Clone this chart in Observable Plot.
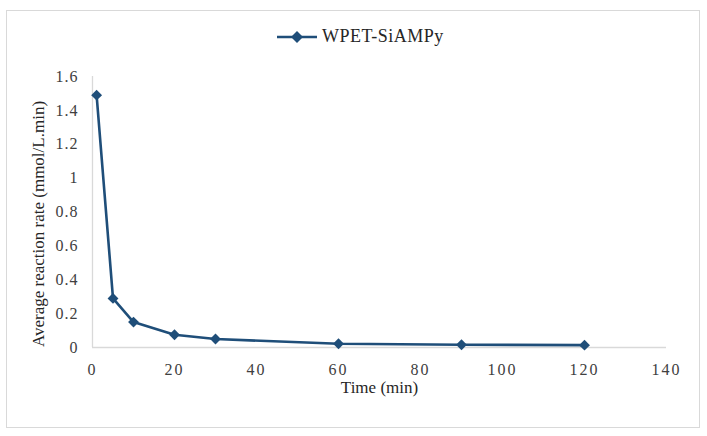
<!DOCTYPE html>
<html>
<head>
<meta charset="utf-8">
<script src="https://cdn.jsdelivr.net/npm/d3@7"></script>
<script src="https://cdn.jsdelivr.net/npm/@observablehq/plot@0.6"></script>
<style>
  html, body { margin: 0; padding: 0; background: #fff; }
  #wrap { position: relative; width: 707px; height: 436px; overflow: hidden; font-family: "Liberation Serif", "Times New Roman", serif; }
  #frame { position: absolute; left: 6px; top: 10px; width: 692px; height: 416px; border: 1.5px solid #d9d9d9; pointer-events: none; }
  #legend { position: relative; height: 60px; }
  #legend .item { position: absolute; left: 277px; top: 26px; display: flex; align-items: center; gap: 3px; font-size: 18px; letter-spacing: 0.5px; color: #262626; }
  #plot { position: relative; }
  svg.chart, .chart text { font-family: "Liberation Serif", "Times New Roman", serif !important; }
  .chart g[aria-label="x-axis tick label"] text { letter-spacing: 2px; }
  .chart g[aria-label="y-axis tick label"] text { letter-spacing: 1px; }
</style>
</head>
<body>
<div id="wrap">
  <div id="frame"></div>
  <div id="legend"></div>
  <div id="plot"></div>
</div>
<script>
// Sampling times (min) and the average reaction rate measured at each one
const seriesName = "WPET-SiAMPy";
const times = [1, 5, 10, 20, 30, 60, 90, 120];
const rates = [1.49, 0.29, 0.15, 0.075, 0.05, 0.022, 0.016, 0.014];
const xTicks = [0, 20, 40, 60, 80, 100, 120, 140];
const yTicks = [0, 0.2, 0.4, 0.6, 0.8, 1, 1.2, 1.4, 1.6];
const xTitle = "Time (min)";
const yTitle = "Average reaction rate (mmol/L.min)";

const data = times.map((t, i) => ({time: t, rate: rates[i]}));
const blue = "#1f4e79";
const grid = "#d9d9d9";
const serif = "Liberation Serif";

// Legend: line segment with a diamond marker, then the series name
const legend = document.getElementById("legend");
legend.innerHTML = `<div class="item">
  <svg width="42" height="14" viewBox="0 0 42 14">
    <line x1="0" y1="7" x2="40" y2="7" stroke="${blue}" stroke-width="2.5"/>
    <path d="M20 1 L26 7 L20 13 L14 7 Z" fill="${blue}"/>
  </svg><span>${seriesName}</span></div>`;

const chart = Plot.plot({
  className: "chart",
  width: 707,
  height: 376,
  marginLeft: 92,
  marginRight: 41,
  marginTop: 16,
  marginBottom: 89,
  style: {fontSize: "15px", color: "#404040", background: "transparent", overflow: "visible"},
  x: {domain: [0, 140]},
  y: {domain: [0, 1.6]},
  marks: [
    Plot.ruleY([0], {stroke: grid, strokeWidth: 1.3}),
    Plot.ruleX([0], {y1: 0, y2: 1.6, stroke: grid, strokeWidth: 1.3}),
    Plot.axisX(xTicks, {tickSize: 0, tickPadding: 16, fontSize: 16, fontFamily: serif, label: null}),
    Plot.axisY(yTicks, {tickSize: 0, tickPadding: 14, fontSize: 16, fontFamily: serif, label: null, tickFormat: d => String(d)}),
    Plot.line(data, {x: "time", y: "rate", stroke: blue, strokeWidth: 2.6}),
    Plot.dot(data, {x: "time", y: "rate", symbol: "diamond2", r: 4.9, fill: blue, stroke: "none"}),
    Plot.text([xTitle], {frameAnchor: "bottom", dy: 45, fontSize: 17, fontFamily: serif, fill: "#262626"}),
    Plot.text([yTitle], {frameAnchor: "left", textAnchor: "middle", dx: -54, dy: 12, rotate: -90, fontSize: 17, fontFamily: serif, fill: "#262626"})
  ]
});
document.getElementById("plot").appendChild(chart);
</script>
</body>
</html>
